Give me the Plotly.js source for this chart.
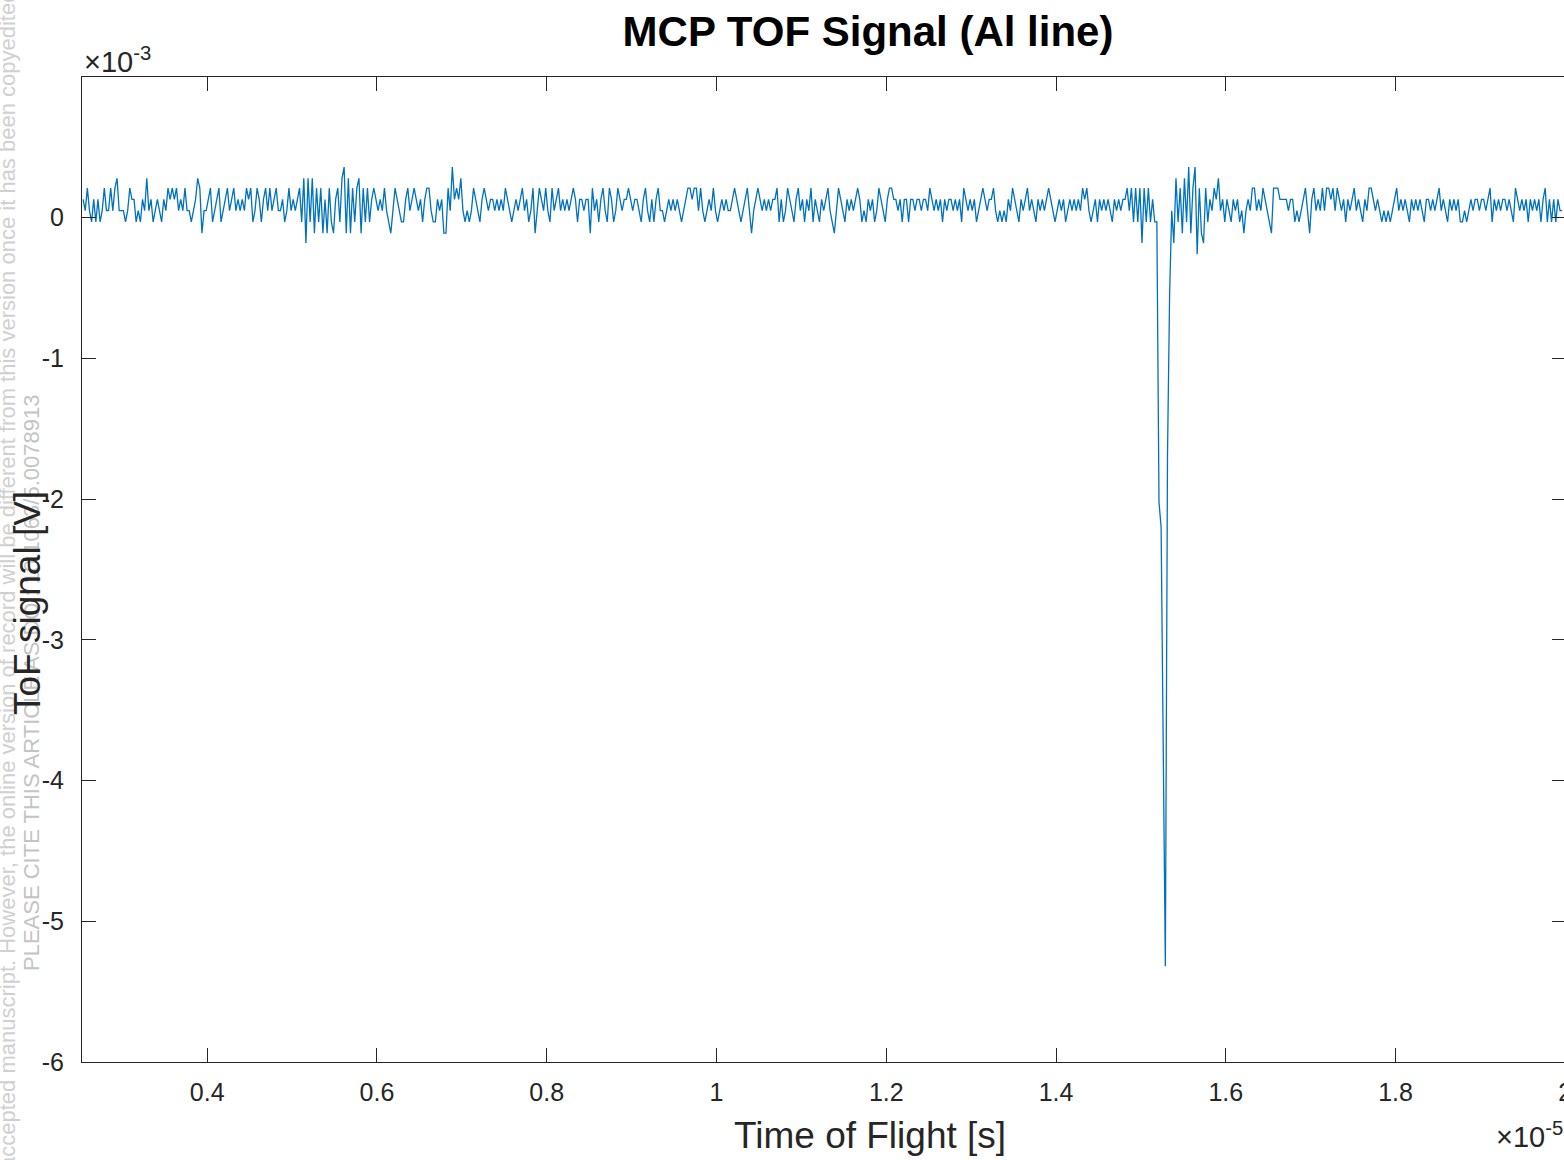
<!DOCTYPE html>
<html>
<head>
<meta charset="utf-8">
<script src="https://cdn.plot.ly/plotly-3.0.1.min.js"></script>
<style>
html,body{margin:0;padding:0;overflow:hidden;background:#fff;}
#chart{width:1568px;height:1160px;}
</style>
</head>
<body>
<div id="chart"></div>
<script>
// Time axis (units of 1e-5 s): first sample and sample step
const timeStart = 0.2538;
const timeStep = 0.0025;

// MCP signal (units of 1e-3 V)
const signalA = [
0.13,0.05,0.21,0.05,-0.03,0.13,-0.03,0.13,-0.03,0.05,
0.21,0.05,0.05,0.21,0.05,0.21,0.28,0.05,0.05,0.05,
-0.03,0.05,0.21,0.13,0.13,-0.03,0.05,-0.03,0.13,0.05,
0.28,0.05,0.13,-0.03,0.05,0.13,0.05,-0.03,0.13,0.05,
0.21,0.13,0.21,0.13,0.21,0.05,0.13,0.05,0.21,0.05,
0.05,-0.03,0.05,0.13,0.28,0.21,-0.11,0.05,0.05,0.13,
0.21,-0.03,0.05,0.13,0.21,-0.03,0.05,0.13,0.21,0.05,
0.13,0.21,0.05,0.13,0.05,0.13,0.05,0.21,0.13,0.21,
-0.03,0.05,0.21,0.13,-0.03,0.13,0.21,0.05,0.21,0.05,
0.13,0.21,0.05,0.05,0.13,-0.03,0.05,0.21,0.05,0.13,
0.05,0.13,0.21,-0.03,0.28,-0.18,0.28,-0.03,0.28,-0.11,
0.21,-0.03,0.21,-0.11,0.13,-0.11,0.21,-0.03,-0.11,0.13,
0.21,-0.03,0.28,0.36,-0.11,0.28,-0.11,0.21,-0.03,0.21,
0.28,-0.11,0.21,-0.03,0.21,-0.03,0.13,0.21,0.13,0.05,
0.13,0.05,0.21,0.05,-0.03,-0.11,0.05,0.21,0.13,0.05,
-0.03,-0.03,0.13,0.21,0.05,0.13,0.21,0.13,0.05,0.13,
-0.03,0.13,0.21,0.21,0.05,-0.03,-0.03,0.13,0.05,0.13,
-0.11,-0.11,0.21,0.05,0.36,0.13,0.21,0.13,0.28,0.05,
-0.03,0.05,-0.03,0.05,0.21,0.13,0.05,-0.03,0.13,0.21,
0.13,0.05,0.13,0.13,0.05,0.13,0.05,0.13,0.05,0.21,
0.13,0.05,-0.03,0.05,0.13,0.05,0.13,0.21,0.05,0.13,
-0.03,0.05,0.21,-0.11,0.05,0.21,0.13,0.05,0.21,0.05,
-0.03,0.21,0.05,0.13,0.21,0.05,0.13,0.05,0.13,0.05,
0.13,0.21,0.13,-0.03,0.13,0.13,0.05,0.13,0.13,-0.11,
0.21,0.05,0.13,-0.03,0.13,0.21,0.05,-0.03,0.21,0.13
];
const signalB = [
-0.03,0.05,0.21,0.13,0.05,0.13,0.13,0.21,0.13,0.05,
0.13,0.13,0.05,-0.03,0.13,0.21,0.05,-0.03,0.13,-0.03,
0.13,0.21,0.05,0.05,-0.03,0.05,0.13,0.05,0.13,0.05,
0.13,0.05,-0.03,0.05,0.13,0.21,0.21,0.13,0.21,0.21,
0.05,0.21,0.05,-0.03,0.05,0.13,0.05,0.21,0.05,-0.03,
0.05,0.13,0.05,0.13,0.05,0.05,0.13,0.21,0.13,0.05,
-0.03,0.05,0.13,0.21,0.05,-0.11,0.05,0.13,0.21,0.13,
0.05,0.13,0.05,0.13,0.05,0.13,0.13,0.21,-0.03,0.13,
-0.03,0.05,0.21,0.13,0.05,-0.03,0.13,0.21,0.05,0.13,
-0.03,0.13,0.05,0.21,-0.03,0.13,0.05,-0.03,0.13,0.05,
0.13,0.21,0.05,-0.03,-0.11,0.05,0.21,0.13,0.05,-0.03,
0.13,0.05,0.13,0.05,0.13,0.21,0.13,-0.03,0.05,-0.03,
0.13,0.05,0.13,-0.03,0.05,0.21,0.13,0.05,-0.03,0.13,
0.21,0.21,0.13,0.13,0.05,0.13,-0.03,0.13,0.13,-0.03,
0.13,0.13,0.05,0.13,0.13,0.05,0.13,0.13,0.05,0.21,
0.13,0.05,0.13,0.05,0.13,-0.03,0.13,0.05,0.13,0.13,
0.05,0.13,0.05,0.13,-0.03,0.21,0.13,0.05,0.13,0.05,
0.13,-0.03,0.05,0.13,0.21,0.13,0.05,0.13,0.13,0.21,
0.05,-0.03,0.05,-0.03,0.05,-0.03,0.13,0.05,0.21,0.13,
0.05,-0.03,0.13,0.05,0.13,0.21,0.05,0.13,0.05,-0.03,
0.13,0.05,0.13,0.05,0.13,0.21,0.13,0.05,-0.03,0.05,
0.13,0.05,0.13,-0.03,0.05,0.13,0.05,0.13,0.05,0.13,
0.05,0.21,0.13,0.21,0.05,-0.03,0.05,0.13,-0.03,0.13,
0.05,0.13,0.05,0.13,0.05,-0.03,0.13,0.05,0.13,0.05,
0.13,0.13,0.21,0.05,0.21,-0.03,0.21,-0.03,0.21,-0.18
];
const signalC = [
0.21,-0.03,0.21,-0.03,0.13,-0.03,-0.03,-2.02,-2.2,-3.7,
-5.32,-1.7,-0.55,0.05,-0.18,0.28,-0.03,0.21,-0.11,0.28,
-0.03,0.36,-0.11,0.21,0.36,-0.26,0.21,-0.11,-0.18,0.21,
-0.03,0.13,0.05,0.21,0.13,0.28,0.05,0.13,-0.03,0.13,
0.05,-0.03,0.13,0.05,0.13,-0.03,0.05,-0.11,0.05,0.13,
0.05,0.21,0.21,0.05,0.13,0.05,0.21,0.13,0.05,-0.03,
-0.11,0.21,0.21,0.21,0.13,0.13,0.13,0.13,0.05,0.13,
0.13,-0.03,0.05,-0.03,0.05,0.13,0.21,0.05,-0.11,0.13,
0.21,0.05,0.13,0.05,0.21,0.05,0.21,0.21,0.13,0.21,
0.05,0.21,0.13,0.05,0.13,-0.03,0.13,0.05,0.13,0.21,
0.05,0.13,0.05,-0.03,0.13,0.05,0.21,0.21,0.13,0.05,
0.13,0.05,-0.03,0.05,-0.03,0.05,-0.03,0.05,0.13,0.21,
0.05,0.13,0.05,0.13,0.05,-0.03,0.13,0.05,0.13,0.05,
0.13,0.05,-0.03,0.13,0.13,0.05,0.13,0.05,0.13,0.21,
0.05,0.13,0.05,-0.03,0.13,0.05,0.13,0.05,0.13,-0.03,
-0.03,0.05,-0.03,0.05,0.13,0.05,0.13,0.13,0.05,0.13,
0.13,0.05,0.13,0.21,-0.03,0.13,0.05,0.13,0.05,0.13,
0.13,0.05,0.13,0.05,-0.03,0.21,0.13,0.05,0.13,0.05,
0.13,-0.03,0.13,0.05,0.13,0.05,0.13,-0.03,0.13,0.21,
-0.03,0.13,-0.03,0.13,-0.03,0.13,0.05,0.05
];
const signal_mV = signalA.concat(signalB, signalC);

const xTickVals = [0.4, 0.6, 0.8, 1.0, 1.2, 1.4, 1.6, 1.8, 2.0];
const xTickText = ['0.4', '0.6', '0.8', '1', '1.2', '1.4', '1.6', '1.8', '2'];
const yTickVals = [-6, -5, -4, -3, -2, -1, 0];
const yTickText = ['-6', '-5', '-4', '-3', '-2', '-1', '0'];

const chartTitle = 'MCP TOF Signal (Al line)';
const xLabel = 'Time of Flight [s]';
const yLabel = 'ToF signal [V]';
const watermark1 = 'accepted manuscript. However, the online version of record will be different from this version once it has been copyedited';
const watermark2 = 'PLEASE CITE THIS ARTICLE AS DOI: 10.1063/5.0078913';

// layout geometry (pixels)
const W = 1568, H = 1160;
const L = 82, R = 2, T = 77, B = 98;
const pw = W - L - R, ph = H - T - B;
const px = v => (v - L) / pw;
const py = v => (H - B - v) / ph;

const FONT = 'Liberation Sans, Arial, Helvetica, sans-serif';
const AXC = '#262626';

const trace = {
  type: 'scatter',
  mode: 'lines',
  x0: timeStart,
  dx: timeStep,
  y: signal_mV,
  line: {color: '#0072BD', width: 1.3},
  hoverinfo: 'skip'
};

const axisCommon = {
  showgrid: false,
  zeroline: false,
  showline: true,
  linecolor: AXC,
  linewidth: 1,
  mirror: 'ticks',
  ticks: 'inside',
  ticklen: 14,
  tickwidth: 1,
  tickcolor: AXC,
  tickfont: {family: FONT, size: 25, color: AXC},
  tickmode: 'array',
  ticklabeloverflow: 'allow'
};

const layout = {
  width: W,
  height: H,
  margin: {l: L, r: R, t: T, b: B, pad: 0},
  paper_bgcolor: '#fff',
  plot_bgcolor: '#fff',
  showlegend: false,
  title: {
    text: '<b>' + chartTitle + '</b>',
    font: {family: FONT, size: 42, color: '#000'},
    x: px(868), xref: 'paper', xanchor: 'center',
    y: 1 - 31 / H, yref: 'container', yanchor: 'middle'
  },
  xaxis: Object.assign({}, axisCommon, {
    range: [0.2525, 2.0008],
    tickvals: xTickVals,
    ticktext: xTickText,
    ticklabelstandoff: 8
  }),
  yaxis: Object.assign({}, axisCommon, {
    range: [-6, 1.0],
    tickvals: yTickVals,
    ticktext: yTickText,
    ticklabelstandoff: 12
  }),
  annotations: [
    {text: watermark1, textangle: -90, xref: 'paper', yref: 'paper',
     x: px(7), y: py(580), xanchor: 'center', yanchor: 'middle', showarrow: false,
     font: {family: FONT, size: 22, color: '#d0d0d0'}},
    {text: watermark2, textangle: -90, xref: 'paper', yref: 'paper',
     x: px(31), y: py(683), xanchor: 'center', yanchor: 'middle', showarrow: false,
     font: {family: FONT, size: 22, color: '#c4c4c4'}},
    {text: yLabel, textangle: -90, xref: 'paper', yref: 'paper',
     x: px(27), y: py(603), xanchor: 'center', yanchor: 'middle', showarrow: false,
     font: {family: FONT, size: 37, color: AXC}},
    {text: xLabel, xref: 'paper', yref: 'paper',
     x: px(870), y: py(1135), xanchor: 'center', yanchor: 'middle', showarrow: false,
     font: {family: FONT, size: 37, color: AXC}},
    {text: '\u00d710<sup>-3</sup>', xref: 'paper', yref: 'paper',
     x: px(82), y: py(60), xanchor: 'left', yanchor: 'middle', showarrow: false,
     font: {family: FONT, size: 29, color: AXC}},
    {text: '\u00d710<sup>-5</sup>', xref: 'paper', yref: 'paper',
     x: px(1494), y: py(1135), xanchor: 'left', yanchor: 'middle', showarrow: false,
     font: {family: FONT, size: 29, color: AXC}}
  ]
};

Plotly.newPlot('chart', [trace], layout, {displayModeBar: false, staticPlot: true});
</script>
</body>
</html>
